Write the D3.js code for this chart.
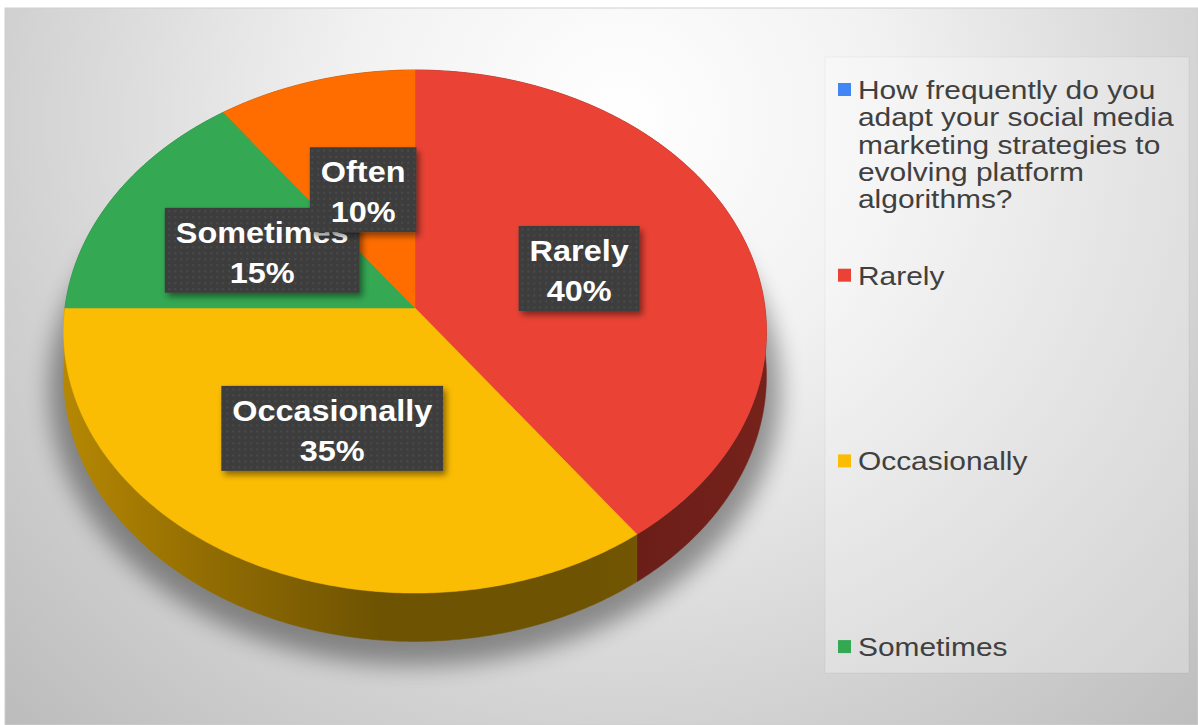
<!DOCTYPE html>
<html>
<head>
<meta charset="utf-8">
<script src="https://cdn.jsdelivr.net/npm/d3@7"></script>
<style>
    html, body { margin: 0; padding: 0; background: #ffffff; }
    svg { display: block; font-family: "Liberation Sans", Arial, sans-serif; }
</style>
</head>
<body>
<svg width="1198" height="725"></svg>
<script>
var categories = ["How frequently do you adapt your social media marketing strategies to evolving platform algorithms?",
    "Rarely", "Occasionally", "Sometimes", "Often"];
var values = [0, 40, 35, 15, 10];
var colors = ["#4285F4", "#EA4335", "#FBBC04", "#34A853", "#FF6D01"];

var width = 1198, height = 725;
var svg = d3.select("svg");
var defs = svg.append("defs");

// chart area background
var bg = defs.append("radialGradient")
    .attr("id", "bg")
    .attr("gradientUnits", "userSpaceOnUse")
    .attr("cx", 620).attr("cy", 120).attr("r", 880);
bg.append("stop").attr("offset", 0).attr("stop-color", "#ffffff");
bg.append("stop").attr("offset", 0.3).attr("stop-color", "#f2f2f2");
bg.append("stop").attr("offset", 0.7).attr("stop-color", "#d1d1d1");
bg.append("stop").attr("offset", 1).attr("stop-color", "#bababa");

svg.append("rect")
    .attr("x", 5).attr("y", 8)
    .attr("width", width - 5).attr("height", height - 8)
    .attr("fill", "url(#bg)")
    .attr("stroke", "#cfcfcf");

// 3d pie projection (angle like d3.pie: 0 at top, clockwise)
var cx = 415, cy = 308, rx = 350, ry = 259.4, persp = 0.09, depth = 44;

function project(angle, r, t) {
    var X = r * Math.sin(angle);
    var Z = -r * Math.cos(angle);
    var w = 1 - persp * Z;
    return [cx + rx * X / w, cy + (ry * Z + depth * t) / w];
}

var data = categories.map(function (c, i) {
    return {name: c, value: values[i], color: colors[i]};
});

var pie = d3.pie().sort(null).value(function (d) { return d.value; });
var arcs = pie(data).filter(function (d) { return d.value > 0; });
var line = d3.line();

function arcPoints(a0, a1, t) {
    var n = Math.max(2, Math.ceil((a1 - a0) / 0.01));
    return d3.range(n + 1).map(function (i) {
        return project(a0 + (a1 - a0) * i / n, 1, t);
    });
}

function shade(c, f) {
    var col = d3.rgb(c);
    return d3.rgb(col.r * f, col.g * f, col.b * f).formatHex();
}

// soft shadow under the pie
var blur = defs.append("filter").attr("id", "blur")
    .attr("x", "-20%").attr("y", "-20%").attr("width", "140%").attr("height", "140%");
blur.append("feGaussianBlur").attr("stdDeviation", 11);

svg.append("path")
    .attr("d", line(arcPoints(0, 2 * Math.PI, 1)) + "Z")
    .attr("transform", "translate(" + cx + "," + (cy + 40) + ") scale(1.04) translate(" + (-cx) + "," + (-cy - 28) + ")")
    .attr("fill", "#000")
    .attr("opacity", 0.38)
    .attr("filter", "url(#blur)");

// side walls, back to front
arcs.forEach(function (d, i) {
    var g = defs.append("linearGradient")
        .attr("id", "side" + i)
        .attr("gradientUnits", "userSpaceOnUse")
        .attr("x1", cx - rx).attr("x2", cx + rx)
        .attr("y1", 0).attr("y2", 0);
    [[0, 0.72], [0.2, 0.58], [0.45, 0.44], [0.75, 0.44], [1, 0.5]].forEach(function (s) {
        g.append("stop").attr("offset", s[0]).attr("stop-color", shade(d.data.color, s[1]));
    });
    d.gid = "side" + i;
    d.midZ = -Math.cos((d.startAngle + d.endAngle) / 2);
});

var sides = arcs.slice().sort(function (a, b) { return a.midZ - b.midZ; });

svg.append("g")
    .selectAll("path")
    .data(sides)
    .enter().append("path")
    .attr("d", function (d) {
        var top = arcPoints(d.startAngle, d.endAngle, 0);
        var bottom = arcPoints(d.startAngle, d.endAngle, 1).reverse();
        return line(top.concat(bottom)) + "Z";
    })
    .attr("fill", function (d) { return "url(#" + d.gid + ")"; })
    .attr("stroke", function (d) { return "url(#" + d.gid + ")"; })
    .attr("stroke-width", 0.5);

// top faces
svg.append("g")
    .selectAll("path")
    .data(arcs)
    .enter().append("path")
    .attr("d", function (d) {
        return line([project(0, 0, 0)].concat(arcPoints(d.startAngle, d.endAngle, 0))) + "Z";
    })
    .attr("fill", function (d) { return d.data.color; })
    .attr("stroke", function (d) { return d.data.color; })
    .attr("stroke-width", 0.5);

// data labels
var dots = defs.append("pattern")
    .attr("id", "dots")
    .attr("patternUnits", "userSpaceOnUse")
    .attr("width", 6).attr("height", 6);
dots.append("rect").attr("width", 6).attr("height", 6).attr("fill", "#3e3e3e");
dots.append("circle").attr("cx", 3).attr("cy", 3).attr("r", 1).attr("fill", "#4c4c4c");

var drop = defs.append("filter").attr("id", "drop")
    .attr("x", "-20%").attr("y", "-20%").attr("width", "140%").attr("height", "150%");
drop.append("feDropShadow")
    .attr("dx", 3).attr("dy", 4).attr("stdDeviation", 3)
    .attr("flood-color", "#000").attr("flood-opacity", 0.45);

var labelScale = 1.08;
var fmt = d3.format(".0%");
var total = d3.sum(values);

arcs.forEach(function (d) {
    var mid = (d.startAngle + d.endAngle) / 2;
    var p = project(mid, 0.5, 0);
    var g = svg.append("g").attr("transform", "translate(" + p[0] + "," + p[1] + ")");
    var rect = g.append("rect")
        .attr("fill", "url(#dots)")
        .attr("filter", "url(#drop)");
    var lines = [d.data.name, fmt(d.data.value / total)];
    var maxW = 0;
    lines.forEach(function (s, k) {
        var t = g.append("text")
            .attr("transform", "translate(0," + (k === 0 ? -7.5 : 32.5) + ") scale(" + labelScale + ",1)")
            .attr("text-anchor", "middle")
            .attr("font-size", 30)
            .attr("font-weight", "bold")
            .attr("fill", "#ffffff")
            .text(s);
        maxW = Math.max(maxW, t.node().getComputedTextLength() * labelScale);
    });
    var bw = maxW + 22;
    rect.attr("x", -bw / 2).attr("y", -42.5).attr("width", bw).attr("height", 85);
});

// legend
var legX = 825, legY = 57, legW = 364, legH = 616;

svg.append("rect")
    .attr("x", legX).attr("y", legY).attr("width", legW).attr("height", legH)
    .attr("fill", "#ffffff").attr("fill-opacity", 0.28)
    .attr("stroke", "#000").attr("stroke-opacity", 0.04);

var legend = svg.append("g");
var legScale = 1.15, legFont = 26, lineH = 27.3, maxLineW = 330;
var ly = d3.scaleLinear().domain([0, 1]).range([90, 275.7]);

var measure = svg.append("text").attr("font-size", legFont).attr("visibility", "hidden");
function textW(s) {
    measure.text(s);
    return measure.node().getComputedTextLength() * legScale;
}

function wrap(str) {
    var words = str.split(" "), out = [], cur = "";
    words.forEach(function (w) {
        var test = cur ? cur + " " + w : w;
        if (cur && textW(test) > maxLineW) {
            out.push(cur);
            cur = w;
        } else {
            cur = test;
        }
    });
    out.push(cur);
    return out;
}

// entries that do not fit in the legend box are left out, as in the original
data.forEach(function (d, i) {
    var y0 = ly(i);
    if (y0 + 10 > legY + legH) return;
    legend.append("rect")
        .attr("x", 838).attr("y", y0 - 7)
        .attr("width", 13).attr("height", 13)
        .attr("fill", d.color);
    wrap(d.name).forEach(function (s, k) {
        legend.append("text")
            .attr("transform", "translate(858," + (y0 + 9 + k * lineH) + ") scale(" + legScale + ",1)")
            .attr("font-size", legFont)
            .attr("fill", "#404040")
            .text(s);
    });
});
measure.remove();
</script>
</body>
</html>
